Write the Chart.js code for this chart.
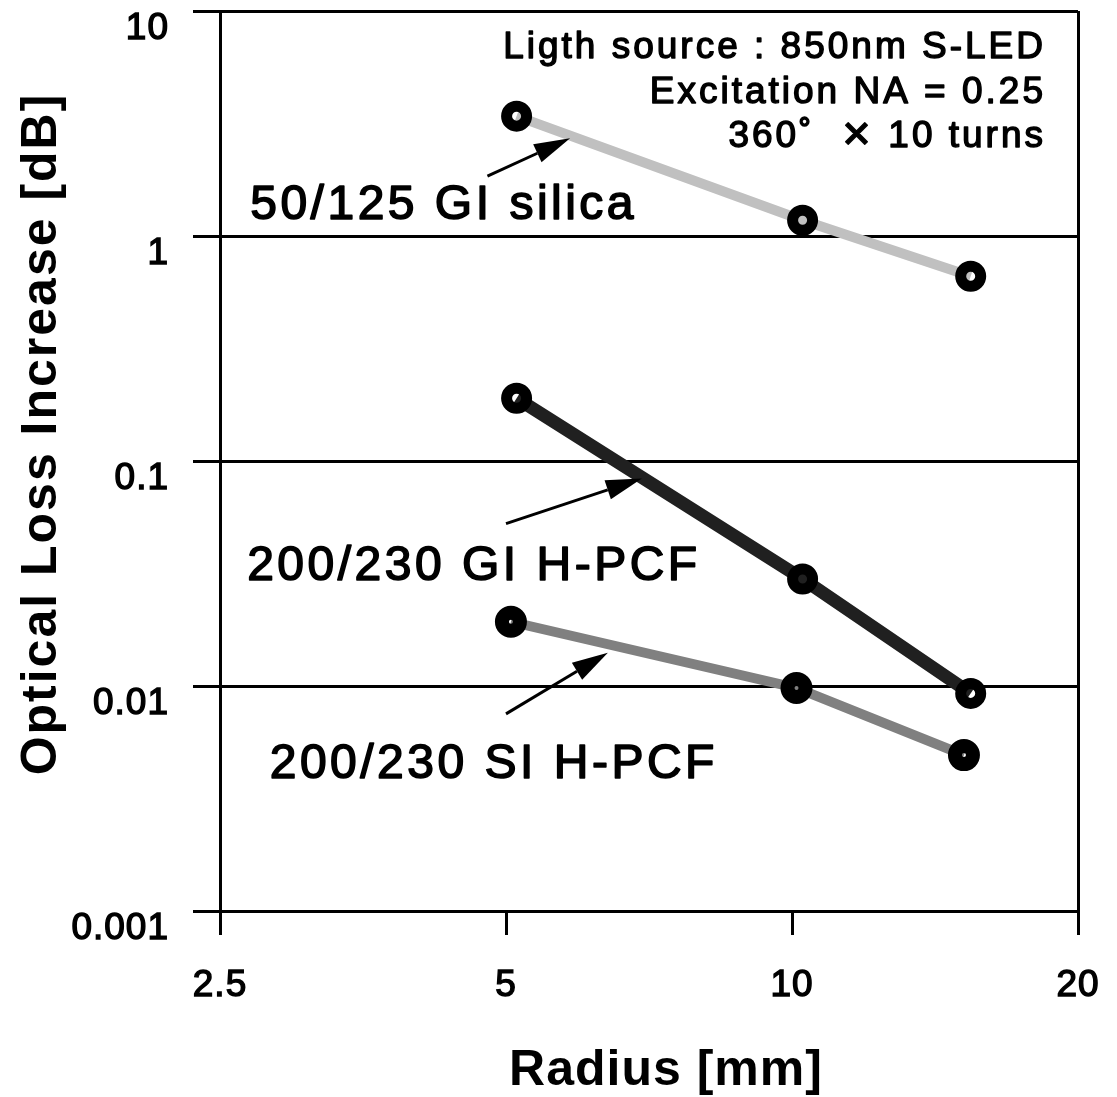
<!DOCTYPE html>
<html>
<head>
<meta charset="utf-8">
<script src="https://cdn.jsdelivr.net/npm/chart.js@4.4.1/dist/chart.umd.min.js"></script>
<style>
  html, body { margin: 0; padding: 0; background: #fff; }
  #wrap { width: 1117px; height: 1097px; }
</style>
</head>
<body>
<div id="wrap"><canvas id="lossChart"></canvas></div>
<script>
// bend radius [mm] vs. loss increase [dB], log-log
const radiusTicks = [2.5, 5, 10, 20];
const lossTicks = [0.001, 0.01, 0.1, 1, 10];

const silicaRadius = [5.13, 10.26, 15.42];
const silicaLoss = [3.41, 1.175, 0.662];
const giRadius = [5.13, 10.26, 15.42];
const giLoss = [0.190, 0.0299, 0.00927];
const siRadius = [5.06, 10.11, 15.17];
const siLoss = [0.0193, 0.0098, 0.00493];

const seriesNames = ['50/125 GI silica', '200/230 GI H-PCF', '200/230 SI H-PCF'];
const conditions = ['Ligth source : 850nm S-LED', 'Excitation NA = 0.25', '360˚  \u2715 10 turns'];

const FONT = "'Liberation Sans', Arial, 'DejaVu Sans', sans-serif";

function pts(xs, ys) {
  return xs.map((x, i) => ({ x: x, y: ys[i] }));
}

// label + arrow for each curve (data units)
const callouts = [
  { text: seriesNames[0], at: [2.69, 1.19], from: [4.78, 1.845], to: [5.84, 2.72] },
  { text: seriesNames[1], at: [2.67, 0.0297], from: [5.0, 0.0527], to: [6.95, 0.0836] },
  { text: seriesNames[2], at: [2.82, 0.00391], from: [5.0, 0.00752], to: [6.40, 0.01406] }
];

function arrow(ctx, x0, y0, x1, y1) {
  const ang = Math.atan2(y1 - y0, x1 - x0);
  const len = 36, half = 10;
  const bx = x1 - len * Math.cos(ang), by = y1 - len * Math.sin(ang);
  ctx.lineWidth = 3;
  ctx.beginPath();
  ctx.moveTo(x0, y0);
  ctx.lineTo(bx, by);
  ctx.stroke();
  ctx.beginPath();
  ctx.moveTo(x1, y1);
  ctx.lineTo(bx + half * Math.sin(ang), by - half * Math.cos(ang));
  ctx.lineTo(bx - half * Math.sin(ang), by + half * Math.cos(ang));
  ctx.closePath();
  ctx.fill();
}

// regular face, thickened with a thin outline
function heavyText(ctx, text, x, y, w) {
  ctx.lineWidth = w;
  ctx.lineJoin = 'round';
  ctx.strokeText(text, x, y);
  ctx.fillText(text, x, y);
}

const annotate = {
  id: 'annotate',
  beforeDraw(chart) {
    chart.ctx.letterSpacing = '1px';
  },
  afterDraw(chart) {
    const { ctx, chartArea: a } = chart;
    const x = chart.scales.x, y = chart.scales.y;
    ctx.save();
    ctx.fillStyle = '#000';
    ctx.strokeStyle = '#000';

    // curve labels
    ctx.font = '48px ' + FONT;
    ctx.letterSpacing = '3.5px';
    ctx.textAlign = 'left';
    ctx.textBaseline = 'alphabetic';
    callouts.forEach(c => {
      heavyText(ctx, c.text, x.getPixelForValue(c.at[0]), y.getPixelForValue(c.at[1]), 1.6);
      arrow(ctx,
        x.getPixelForValue(c.from[0]), y.getPixelForValue(c.from[1]),
        x.getPixelForValue(c.to[0]), y.getPixelForValue(c.to[1]));
    });

    // measurement conditions
    ctx.font = '37px ' + FONT;
    ctx.letterSpacing = '3px';
    ctx.textAlign = 'right';
    conditions.forEach((t, i) => heavyText(ctx, t, a.right - 32, a.top + 47 + i * 44.5, 1.4));

    // axis titles
    ctx.font = 'bold 50px ' + FONT;
    ctx.textAlign = 'center';
    ctx.textBaseline = 'middle';
    ctx.letterSpacing = '1px';
    ctx.fillText('Radius [mm]', (a.left + a.right) / 2 + 17, a.bottom + 160);
    ctx.letterSpacing = '2px';
    ctx.translate(a.left - 178, (a.top + a.bottom) / 2 - 27);
    ctx.rotate(-Math.PI / 2);
    ctx.fillText('Optical Loss Increase [dB]', 0, 0);
    ctx.restore();
  }
};

const tickFont = { family: FONT, size: 37 };

new Chart(document.getElementById('lossChart'), {
  type: 'line',
  data: {
    datasets: [
      {
        label: seriesNames[0],
        data: pts(silicaRadius, silicaLoss),
        borderColor: '#c0c0c0',
        borderWidth: 10,
        pointRadius: 10,
        pointBorderWidth: 11,
        pointBorderColor: '#000',
        pointBackgroundColor: 'rgba(0,0,0,0)'
      },
      {
        label: seriesNames[1],
        data: pts(giRadius, giLoss),
        borderColor: '#202020',
        borderWidth: 13,
        pointRadius: 10,
        pointBorderWidth: 11,
        pointBorderColor: '#000',
        pointBackgroundColor: 'rgba(0,0,0,0)'
      },
      {
        label: seriesNames[2],
        data: pts(siRadius, siLoss),
        borderColor: '#808080',
        borderWidth: 10,
        pointRadius: 9,
        pointBorderWidth: 14,
        pointBorderColor: '#000',
        pointBackgroundColor: 'rgba(0,0,0,0)'
      }
    ]
  },
  options: {
    responsive: true,
    maintainAspectRatio: false,
    animation: false,
    events: [],
    layout: { autoPadding: false, padding: { top: 11, right: 39, left: 0, bottom: 0 } },
    plugins: {
      legend: { display: false },
      tooltip: { enabled: false }
    },
    scales: {
      x: {
        type: 'logarithmic',
        min: 2.5,
        max: 20,
        afterBuildTicks: s => { s.ticks = radiusTicks.map(v => ({ value: v })); },
        afterFit: s => { s.height = 186; s.paddingLeft = 0; s.paddingRight = 0; },
        grid: {
          color: c => (c.tick && (c.tick.value === 2.5 || c.tick.value === 20)) ? '#000' : 'rgba(0,0,0,0)',
          tickColor: '#000',
          lineWidth: 3,
          tickWidth: 3,
          tickLength: 24
        },
        border: { display: true, color: '#000', width: 3 },
        ticks: {
          color: '#000',
          font: tickFont,
          textStrokeColor: '#000',
          textStrokeWidth: 1.4,
          padding: 29,
          maxRotation: 0,
          autoSkip: false,
          callback: v => String(v)
        }
      },
      y: {
        type: 'logarithmic',
        min: 0.001,
        max: 10,
        afterBuildTicks: s => { s.ticks = lossTicks.map(v => ({ value: v })); },
        afterFit: s => { s.width = 220; s.paddingTop = 0; s.paddingBottom = 0; },
        grid: { color: '#000', lineWidth: 3, tickLength: 27 },
        border: { display: true, color: '#000', width: 3 },
        ticks: {
          color: '#000',
          font: tickFont,
          textStrokeColor: '#000',
          textStrokeWidth: 1.4,
          padding: 24,
          labelOffset: 18,
          autoSkip: false,
          callback: v => String(v)
        }
      }
    }
  },
  plugins: [annotate]
});
</script>
</body>
</html>
